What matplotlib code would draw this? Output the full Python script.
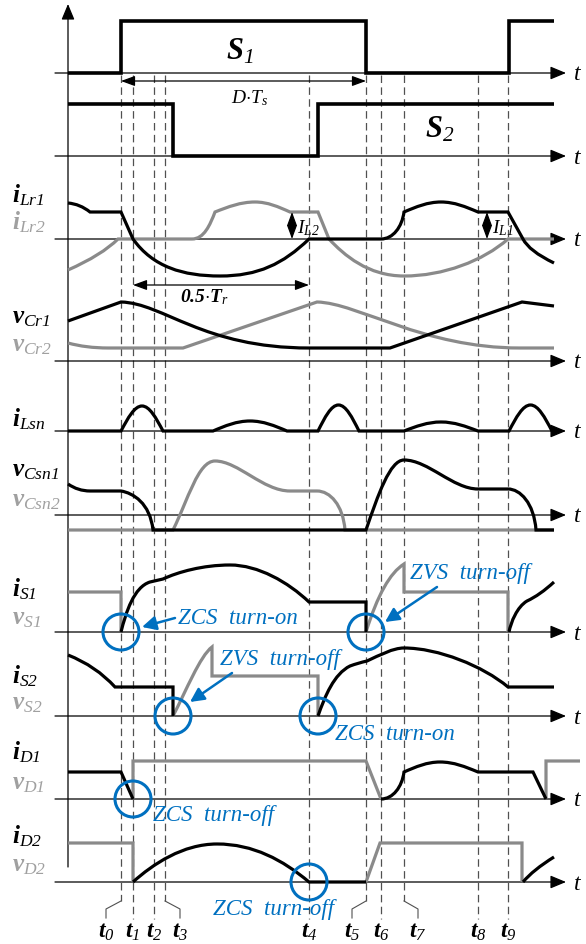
import matplotlib
matplotlib.use('Agg')
import matplotlib.pyplot as plt
from matplotlib.path import Path
from matplotlib.patches import PathPatch, Circle

plt.rcParams['mathtext.fontset'] = 'custom'
plt.rcParams['mathtext.rm'] = 'Liberation Serif:italic'
plt.rcParams['mathtext.it'] = 'Liberation Serif:italic'
plt.rcParams['mathtext.bf'] = 'Liberation Serif:italic:bold'
plt.rcParams['font.family'] = ['Liberation Serif', 'DejaVu Sans']

# ------------------------------------------------------------------ data
# time instants t0..t9 (time units, origin at the vertical axis)
t_events = [53, 65, 86, 97, 241, 298, 313, 336, 410, 440]
t_names = ['0', '1', '2', '3', '4', '5', '6', '7', '8', '9']
t_end = 486

def hump(a, b, amp, base=0.0, peak=None):
    """half-sine shaped bump drawn as two cubic Bezier segments"""
    p = (a + b) / 2 if peak is None else peak
    top = base + amp
    return [('C', a + 0.3343 * (p - a), base + 0.5251 * amp, a + 0.64 * (p - a), top, p, top),
            ('C', p + 0.36 * (b - p), top, p + 0.6657 * (b - p), base + 0.5251 * amp, b, base)]

# gate signals
S1_wave = [('M', 0, 0), ('L', 53, 0), ('L', 53, 52), ('L', 298, 52), ('L', 298, 0),
           ('L', 441, 0), ('L', 441, 52), ('L', 486, 52)]
S2_wave = [('M', 0, 52), ('L', 105, 52), ('L', 105, 0), ('L', 250, 0), ('L', 250, 52), ('L', 486, 52)]

# resonant inductor currents
iLr1 = ([('M', 0, 36), ('Q', 12, 35, 22, 27), ('L', 53, 27), ('L', 65, 0),
         ('C', 85, -28, 115, -37, 152, -37), ('C', 190, -37, 215, -25, 241, 0),
         ('L', 313, 0), ('C', 325, 0, 334, 12, 336, 27)]
        + hump(336, 410, 10, base=27, peak=373)
        + [('L', 440, 27), ('L', 455, 0), ('Q', 461, -12, 486, -24)])
iLr2 = ([('M', 0, -31), ('Q', 34, -16, 50, 0), ('L', 124, 0), ('C', 136, 0, 142, 14, 147, 27)]
        + hump(147, 222, 10, base=27, peak=187)
        + [('L', 250, 27), ('L', 261, 0), ('C', 276, -16, 300, -37, 336, -37),
           ('C', 375, -37, 415, -22, 440, 0), ('L', 486, 0)])

# resonant capacitor voltages
vCr1 = [('M', 0, 40), ('L', 53, 59), ('C', 95, 58, 135, 13, 241, 13), ('L', 322, 13),
        ('L', 454, 59), ('L', 486, 55)]
vCr2 = [('M', 0, 18), ('Q', 18, 13, 40, 13), ('L', 115, 13), ('L', 249, 59),
        ('C', 290, 58, 355, 13, 452, 13), ('L', 486, 13)]

# snubber inductor current
iLsn = ([('M', 0, 0), ('L', 53, 0)] + hump(53, 95, 25) + [('L', 145, 0)] + hump(145, 219, 10)
        + [('L', 250, 0)] + hump(250, 291, 26) + [('L', 336, 0)] + hump(336, 410, 9)
        + [('L', 441, 0)] + hump(441, 484, 26))

# snubber capacitor voltages
vCsn1 = [('M', 0, 31), ('Q', 10, 24, 22, 24), ('L', 53, 24), ('C', 65, 22, 82, 12, 85, -15),
         ('L', 298, -15), ('C', 310, 20, 322, 55, 336, 55), ('C', 360, 55, 385, 26, 410, 26),
         ('L', 440, 26), ('C', 452, 26, 466, 12, 468, -15), ('L', 486, -15)]
vCsn2 = [('M', 0, -15), ('L', 105, -15), ('C', 120, 15, 130, 54, 147, 54),
         ('C', 170, 54, 195, 24, 222, 24), ('L', 249, 24), ('C', 262, 24, 275, 10, 277, -15),
         ('L', 486, -15)]

# switch S1
iS1 = [('M', 53, 0), ('C', 58, 20, 66, 45, 82, 50), ('L', 95, 53),
       ('C', 110, 60, 135, 67, 162, 67), ('C', 190, 67, 220, 50, 241, 30),
       ('L', 298, 30), ('L', 298, 0),
       ('M', 441, 0), ('C', 443, 10, 449, 25, 459, 31), ('Q', 472, 37, 486, 50)]
vS1 = [('M', 0, 40), ('L', 53, 40), ('L', 53, 0),
       ('M', 298, 0), ('Q', 315, 55, 336, 68), ('L', 336, 40), ('L', 440, 40), ('L', 440, 0)]

# switch S2
iS2 = [('M', 0, 61), ('Q', 28, 50, 47, 29), ('L', 105, 29), ('L', 105, 0),
       ('M', 250, 0), ('C', 257, 20, 266, 42, 282, 50), ('Q', 290, 53, 299, 55),
       ('C', 312, 61, 325, 68, 336, 68), ('C', 370, 68, 415, 50, 440, 29), ('L', 486, 29)]
vS2 = [('M', 105, 0), ('C', 118, 25, 132, 60, 144, 69), ('L', 144, 40), ('L', 250, 40), ('L', 250, 0)]

# diode D1
iD1 = ([('M', 0, 27), ('L', 53, 27), ('L', 65, 0),
        ('M', 313, 0), ('C', 325, 0, 334, 12, 336, 27)]
       + hump(336, 410, 10, base=27, peak=372)
       + [('L', 465, 27), ('L', 478, 0)])
vD1 = [('M', 65, 0), ('L', 65, 38), ('L', 298, 38), ('L', 313, 0),
       ('M', 478, 0), ('L', 478, 38), ('L', 512, 38)]

# diode D2
iD2 = [('M', 65, 0), ('C', 85, 18, 115, 38, 149, 38), ('C', 185, 38, 215, 22, 241, 0),
       ('L', 298, 0), ('M', 455, 0), ('Q', 465, 12, 486, 25)]
vD2 = [('M', 0, 39), ('L', 65, 39), ('L', 65, 0),
       ('M', 298, 0), ('L', 312, 39), ('L', 454, 39), ('L', 454, 0)]

# ------------------------------------------------------------------ layout
BLACK = '#000000'
GRAY = '#8a8a8a'
LGRAY = '#a0a0a0'
BLUE = '#0070C0'

row_y = dict(S1=74, S2=157, iLr=240, vCr=362, iLsn=432, vCsn=516,
             iS1=633, iS2=717, iD1=800, iD2=883)

fig = plt.figure(figsize=(5.86, 9.45), dpi=100)
ax = fig.add_axes([0, 0, 1, 1])
ax.set_xlim(-68, 518)
ax.set_ylim(945, 0)
ax.axis('off')


def draw(cmds, base, color, lw=2.3, z=4):
    verts, codes = [], []
    for c in cmds:
        op, pts = c[0], c[1:]
        xy = [(pts[i], base - pts[i + 1]) for i in range(0, len(pts), 2)]
        if op == 'M':
            codes.append(Path.MOVETO)
        elif op == 'L':
            codes.append(Path.LINETO)
        elif op == 'Q':
            codes += [Path.CURVE3] * 2
        elif op == 'C':
            codes += [Path.CURVE4] * 3
        verts += xy
    ax.add_patch(PathPatch(Path(verts, codes), fill=False, ec=color, lw=lw,
                           capstyle='butt', joinstyle='miter', zorder=z))


# vertical axis
ax.annotate('', xy=(0, 5), xytext=(0, 868),
            arrowprops=dict(arrowstyle='-|>,head_length=0.6,head_width=0.25', lw=0.9,
                            color='k', shrinkA=0, shrinkB=0, mutation_scale=16))
# time axes
for key, y in row_y.items():
    ax.annotate('', xy=(498, y), xytext=(-13, y),
                arrowprops=dict(arrowstyle='-|>,head_length=0.6,head_width=0.25', lw=0.9,
                                color='k', shrinkA=0, shrinkB=0, mutation_scale=16), zorder=2)
    ax.text(505, y + 1, r'$\mathit{t}$', fontsize=17, ha='left', va='center')

# dashed time markers
offsets = {0: -15, 3: 15, 5: -14, 7: 14}
for i, t in enumerate(t_events):
    off = offsets.get(i, 0)
    yend = 902 if off else 920
    ax.plot([t, t], [76, yend], color='#505050', lw=0.9, ls=(0, (6, 3.5)), zorder=1)
    if off:
        ax.plot([t, t + off, t + off], [902, 910, 919], color='#505050', lw=0.8, zorder=1)
    ax.text(t + off, 932, r'$\mathbf{t}_{\mathit{%s}}$' % t_names[i], fontsize=17,
            ha='center', va='center')

# waveforms
draw(S1_wave, row_y['S1'], BLACK, lw=2.6)
draw(S2_wave, row_y['S2'], BLACK, lw=2.6)
draw(iLr2, row_y['iLr'], GRAY, z=3)
draw(iLr1, row_y['iLr'], BLACK)
draw(vCr2, row_y['vCr'], GRAY, z=3)
draw(vCr1, row_y['vCr'], BLACK)
draw(iLsn, row_y['iLsn'], BLACK)
draw(vCsn2, row_y['vCsn'], GRAY, z=3)
draw(vCsn1, row_y['vCsn'], BLACK)
draw(vS1, row_y['iS1'], GRAY, z=3)
draw(iS1, row_y['iS1'], BLACK)
draw(vS2, row_y['iS2'], GRAY, z=3)
draw(iS2, row_y['iS2'], BLACK)
draw(vD1, row_y['iD1'], GRAY, z=3)
draw(iD1, row_y['iD1'], BLACK)
draw(vD2, row_y['iD2'], GRAY, z=3)
draw(iD2, row_y['iD2'], BLACK)

# signal names
ax.text(172, 52, r'$\mathbf{S}_{\mathit{1}}$', fontsize=22, ha='center', va='center')
ax.text(372, 130, r'$\mathbf{S}_{\mathit{2}}$', fontsize=22, ha='center', va='center')

side_labels = [
    (r'$\mathbf{i}_{\mathit{Lr1}}$', 195, BLACK), (r'$\mathbf{i}_{\mathit{Lr2}}$', 222, LGRAY),
    (r'$\mathbf{v}_{\mathit{Cr1}}$', 318, BLACK), (r'$\mathbf{v}_{\mathit{Cr2}}$', 346, LGRAY),
    (r'$\mathbf{i}_{\mathit{Lsn}}$', 419, BLACK),
    (r'$\mathbf{v}_{\mathit{Csn1}}$', 471, BLACK), (r'$\mathbf{v}_{\mathit{Csn2}}$', 501, LGRAY),
    (r'$\mathbf{i}_{\mathit{S1}}$', 589, BLACK), (r'$\mathbf{v}_{\mathit{S1}}$', 619, LGRAY),
    (r'$\mathbf{i}_{\mathit{S2}}$', 676, BLACK), (r'$\mathbf{v}_{\mathit{S2}}$', 704, LGRAY),
    (r'$\mathbf{i}_{\mathit{D1}}$', 752, BLACK), (r'$\mathbf{v}_{\mathit{D1}}$', 784, LGRAY),
    (r'$\mathbf{i}_{\mathit{D2}}$', 836, BLACK), (r'$\mathbf{v}_{\mathit{D2}}$', 866, LGRAY),
]
for txt, y, col in side_labels:
    ax.text(-56, y, txt, fontsize=18, color=col, ha='left', va='center')

# dimension arrows
dbl = dict(arrowstyle='<|-|>,head_length=0.6,head_width=0.22', lw=0.9, color='k',
           shrinkA=0, shrinkB=0, mutation_scale=14)
ax.annotate('', xy=(53, 82), xytext=(298, 82), arrowprops=dbl)
ax.text(182, 98, r'$\mathit{D{\cdot}T_s}$', fontsize=14, ha='center', va='center')
ax.annotate('', xy=(65, 286), xytext=(241, 286), arrowprops=dbl)
ax.text(137, 297, r'$\mathbf{0.5{\cdot}T}_{\mathit{r}}$', fontsize=14, ha='center', va='center')
ax.annotate('', xy=(224, 213), xytext=(224, 240), arrowprops=dbl)
ax.text(229, 228, r'$\mathit{I_{L2}}$', fontsize=14, ha='left', va='center')
ax.annotate('', xy=(419, 213), xytext=(419, 240), arrowprops=dbl)
ax.text(424, 228, r'$\mathit{I_{L1}}$', fontsize=14, ha='left', va='center')

# soft-switching marks
circles = [(53, 'iS1'), (298, 'iS1'), (105, 'iS2'), (250, 'iS2'), (65, 'iD1'), (241, 'iD2')]
for t, key in circles:
    ax.add_patch(Circle((t, row_y[key]), 18, fill=False, ec=BLUE, lw=2.2, zorder=6))

blue_txt = [('ZCS  turn-on', 110, 619), ('ZVS  turn-off', 342, 573), ('ZVS  turn-off', 152, 660),
            ('ZCS  turn-on', 267, 735), ('ZCS  turn-off', 85, 815), ('ZCS  turn-off', 145, 910)]
for s, x, y in blue_txt:
    ax.text(x, y, s, fontsize=16.5, color=BLUE, style='italic', ha='left', va='center')

barrow = dict(arrowstyle='-|>,head_length=0.6,head_width=0.3', lw=1.8, color=BLUE,
              shrinkA=0, shrinkB=0, mutation_scale=14)
ax.annotate('', xy=(74, 628), xytext=(107, 619), arrowprops=barrow)
ax.annotate('', xy=(317, 623), xytext=(369, 588), arrowprops=barrow)
ax.annotate('', xy=(122, 703), xytext=(164, 674), arrowprops=barrow)

fig.savefig('out.png', dpi=100)
